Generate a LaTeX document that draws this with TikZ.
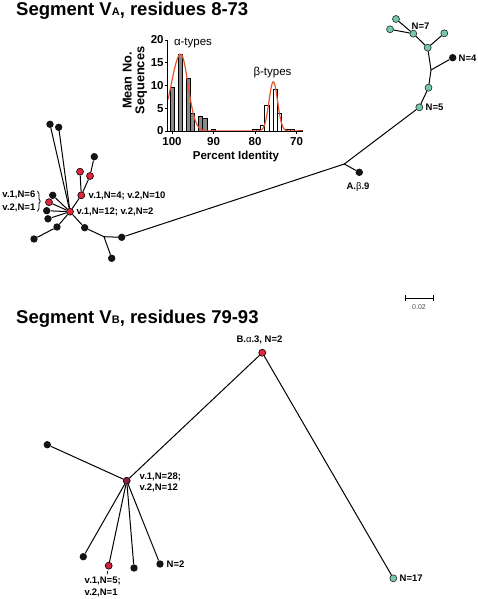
\documentclass[tikz,border=0pt]{standalone}
\usepackage{fontspec}
\setmainfont{Liberation Sans}
\usetikzlibrary{decorations.pathreplacing}
\definecolor{redn}{HTML}{E0263A}
\definecolor{maroonn}{HTML}{8C1C3C}
\definecolor{tealn}{HTML}{74C9A6}
\definecolor{barg}{HTML}{8A8A8A}
\definecolor{curvec}{HTML}{E8532B}
\begin{document}
\begin{tikzpicture}[x=1pt,y=-1pt,
  blk/.style={circle,fill=black!92,inner sep=0pt,minimum size=7.4pt},
  rdn/.style={circle,fill=redn,draw=black,line width=0.6pt,inner sep=0pt,minimum size=7pt},
  mrn/.style={circle,fill=maroonn,draw=black,line width=0.6pt,inner sep=0pt,minimum size=7pt},
  tln/.style={circle,fill=tealn,draw=black!85,line width=0.6pt,inner sep=0pt,minimum size=7pt},
  edge/.style={line width=1pt,black},
  lbl/.style={font=\fontsize{9.5}{11.5}\selectfont\bfseries,inner sep=0pt},
  ttl/.style={font=\fontsize{18.5}{20}\selectfont\bfseries,inner sep=0pt,anchor=base west},
  axl/.style={font=\fontsize{11.5}{12.5}\selectfont\bfseries,inner sep=0pt},
  typl/.style={font=\fontsize{11.5}{12.5}\selectfont,inner sep=0pt},
  axis/.style={line width=0.9pt,black},
  bar/.style={draw=black,line width=0.7pt},
  declare function={
    ga(\t)=16.9*exp(max(-20,-(\t-180.7)*(\t-180.7)/(2*ifthenelse(\t<180.7,90.25,53.29))));
    gb(\t)=10.8*exp(max(-20,-(\t-273.3)*(\t-273.3)/(2*18.49)));
  }
]
\useasboundingbox (0,0) rectangle (478,599);

% ---------- titles ----------
\node[ttl] (titleA) at (16,15.5) {Segment V{\fontsize{11}{11}\selectfont A}, residues 8-73};
\node[ttl] (titleB) at (16,323.7) {Segment V{\fontsize{11}{11}\selectfont B}, residues 79-93};

% ---------- histogram ----------
\foreach \a/\b/\h in {170/174.2/9.5,178.3/182.5/16.8,186.2/190.4/11.5,190.4/194.6/3.8,198.6/202.8/3.3,202.8/207/2.7,211/215.2/0.3}
  \draw[bar,fill=barg] (\a,131) rectangle (\b,{131-4.55*\h});
\foreach \a/\b/\h in {252/256.2/0.3,256.4/260.6/0.4,260.6/264.8/1.3,264.8/269/5.7,273.2/277.4/9.2,277.4/281.6/3.8,285.8/290/0.4,290/294.2/0.3,298.2/302.4/0.2}
  \draw[bar,fill=white] (\a,131) rectangle (\b,{131-4.55*\h});
\draw[curvec,line width=1.2pt] plot[domain=168:303,samples=220,smooth] (\x,{131-4.55*(ga(\x)+gb(\x))});
\draw[axis] (167.5,40) -- (167.5,131) -- (303,131);
\foreach \v in {0,5,10,15,20} {
  \draw[axis] (164.5,{131-4.55*\v}) -- (167.5,{131-4.55*\v});
  \node[axl,anchor=east] (yt\v) at (163.8,{131-4.55*\v}) {\v};
}
\foreach \p/\xx in {100/172,90/213.5,80/255,70/296.5} {
  \draw[axis] (\xx,131) -- (\xx,134);
  \node[axl] (xt\p) at (\xx,141.8) {\p};
}
\node[axl] (xlab) at (236,157) {Percent Identity};
\node[axl,rotate=90,align=center,font=\fontsize{12.8}{12.8}\selectfont\bfseries] (ylab) at (135,80.5) {Mean No.\\Sequences};
\node[typl] (alab) at (193,43) {α-types};
\node[typl] (blab) at (272.5,72.5) {β-types};

% ---------- tree A nodes ----------
\node[rdn] (hubA) at (70,211.7) {};
\node[blk] (nA1) at (50,124.3) {};
\node[blk] (nA2) at (58.7,127.3) {};
\node[rdn] (rA1) at (81.3,195.3) {};
\node[rdn] (rA2) at (80,171.7) {};
\node[rdn] (rA3) at (90,176) {};
\node[blk] (bA3) at (94.3,156.7) {};
\node[blk] (bL1) at (52.7,195.3) {};
\node[rdn] (rL2) at (49,202.2) {};
\node[blk] (bL3) at (46.7,210.7) {};
\node[blk] (bL4) at (48,218.8) {};
\node[blk] (bD1) at (57,227) {};
\node[blk] (bD2) at (34,239) {};
\node[blk] (bR1) at (84.7,227.7) {};
\coordinate (cR) at (104,236.7);
\node[blk] (bR2) at (111.7,258.3) {};
\node[blk] (bR3) at (121.7,237.3) {};
\coordinate (cAB) at (344.3,164);
\node[blk] (bAB9) at (359.3,172.3) {};
\node[tln] (tN5) at (419.3,107.3) {};
\node[tln] (t2) at (428.5,87.7) {};
\coordinate (cN4) at (431,70);
\node[blk] (bN4) at (452.7,57.7) {};
\node[tln] (t3) at (427.7,47.7) {};
\node[tln] (t4) at (444.3,33.3) {};
\node[tln] (t5) at (413.3,33.7) {};
\node[tln] (t6) at (396,19) {};
\node[tln] (t7) at (390,29.3) {};

% ---------- tree A edges ----------
\draw[edge] (hubA) -- (nA1);
\draw[edge] (hubA) -- (nA2);
\draw[edge] (hubA) -- (rA1);
\draw[edge] (rA1) -- (rA2);
\draw[edge] (rA1) -- (rA3);
\draw[edge] (rA3) -- (bA3);
\draw[edge] (hubA) -- (bL1);
\draw[edge] (hubA) -- (rL2);
\draw[edge] (hubA) -- (bL3);
\draw[edge] (hubA) -- (bL4);
\draw[edge] (hubA) -- (bD1);
\draw[edge] (bD1) -- (bD2);
\draw[edge] (hubA) -- (bR1);
\draw[edge] (bR1) -- (cR);
\draw[edge] (cR) -- (bR2);
\draw[edge] (cR) -- (bR3);
\draw[edge] (bR3) -- (cAB);
\draw[edge] (cAB) -- (bAB9);
\draw[edge] (cAB) -- (tN5);
\draw[edge] (tN5) -- (t2);
\draw[edge] (t2) -- (cN4);
\draw[edge] (cN4) -- (bN4);
\draw[edge] (cN4) -- (t3);
\draw[edge] (t3) -- (t4);
\draw[edge] (t3) -- (t5);
\draw[edge] (t5) -- (t6);
\draw[edge] (t5) -- (t7);

% ---------- tree A labels ----------
\node[lbl,anchor=west] (lA1) at (88.5,195.5) {v.1,N=4; v.2,N=10};
\node[lbl,anchor=west] (lA2) at (76.5,212.3) {v.1,N=12; v.2,N=2};
\node[lbl,anchor=east] (lA3) at (35.5,195.3) {v.1,N=6};
\node[lbl,anchor=east] (lA4) at (35.5,208) {v.2,N=1};
\coordinate (brT) at (37.5,191);
\coordinate (brB) at (37.5,211.5);
\draw[line width=0.8pt,decorate,decoration={brace,amplitude=2.8pt}] (brT) -- (brB);
\node[lbl] (lAB9) at (358,186.7) {A.{\mdseries β}.9};
\node[lbl,anchor=west] (lN5) at (425.5,107.5) {N=5};
\node[lbl,anchor=west] (lN4) at (458.5,58) {N=4};
\node[lbl] (lN7) at (420.5,25.8) {N=7};

% ---------- scale bar ----------
\coordinate (sbL) at (405,298);
\coordinate (sbR) at (433,298);
\draw[line width=0.8pt] (sbL) -- (sbR);
\draw[line width=0.8pt] (405,295) -- (405,300.5) (433,295) -- (433,300.5);
\node[font=\fontsize{7}{8}\selectfont,text=black!70,inner sep=0pt] (sblab) at (419,307.5) {0.02};

% ---------- tree B nodes ----------
\node[rdn] (topB) at (262.3,352.7) {};
\node[mrn] (hubB) at (126.7,480.7) {};
\node[blk] (bB0) at (47.3,444.7) {};
\node[tln] (tN17) at (393.3,578.3) {};
\node[blk] (bB1) at (83.3,556.7) {};
\node[mrn,fill=redn!75!maroonn] (rB2) at (108.7,565.7) {};
\node[blk] (bB3) at (134,568) {};
\node[blk] (bB4) at (160,564) {};
\coordinate (tkA) at (107.7,570.9);
\coordinate (tkB) at (107.2,574.3);

% ---------- tree B edges ----------
\draw[edge] (topB) -- (hubB);
\draw[edge] (topB) -- (tN17);
\draw[edge] (hubB) -- (bB0);
\draw[edge] (hubB) -- (bB1);
\draw[edge] (hubB) -- (rB2);
\draw[edge] (hubB) -- (bB3);
\draw[edge] (hubB) -- (bB4);
\draw[line width=0.7pt] (tkA) -- (tkB);

% ---------- tree B labels ----------
\node[lbl] (lTop) at (259.5,339.5) {B.{\mdseries α}.3, N=2};
\node[lbl,anchor=west,align=left] (lHub) at (139.5,482.5) {v.1,N=28;\\v.2,N=12};
\node[lbl,anchor=west] (lN2) at (166.5,564.2) {N=2};
\node[lbl,anchor=west,align=left] (lR2) at (84.5,586.8) {v.1,N=5;\\v.2,N=1};
\node[lbl,anchor=west] (lN17) at (399.5,578.5) {N=17};
\end{tikzpicture}
\end{document}
